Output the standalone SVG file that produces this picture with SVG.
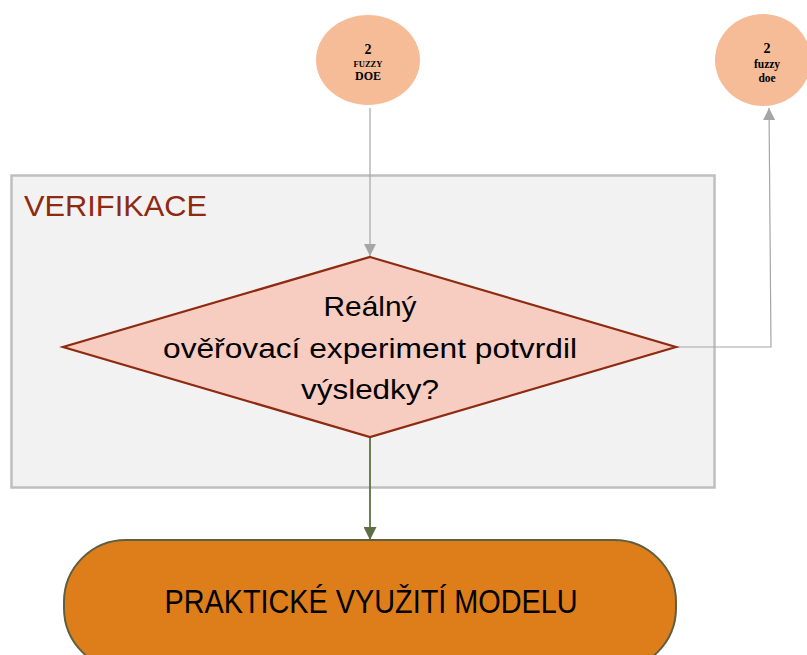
<svg xmlns="http://www.w3.org/2000/svg" width="807" height="655" viewBox="0 0 807 655">
  <style>
    .circ { fill: #f5bc97; }
    .ctext { font-family: "Liberation Serif", serif; font-weight: bold; fill: #000; text-anchor: middle; }
    .gray { stroke: #a6a6a6; stroke-width: 1.2; fill: none; }
    .dtext { font-family: "Liberation Sans", Arial, sans-serif; font-size: 28px; fill: #000; text-anchor: middle; }
  </style>
  <defs>
    <marker id="arrGray" viewBox="0 0 10 10" refX="10" refY="5" markerWidth="12" markerHeight="12" markerUnits="userSpaceOnUse" orient="auto">
      <path d="M0,0 L10,5 L0,10 z" fill="#a6a6a6"/>
    </marker>
    <marker id="arrGreen" viewBox="0 0 10 10" refX="10" refY="5" markerWidth="13" markerHeight="13" markerUnits="userSpaceOnUse" orient="auto">
      <path d="M0,0 L10,5 L0,10 z" fill="#5e7043"/>
    </marker>
  </defs>

  <rect width="807" height="655" fill="#ffffff"/>

  <!-- verification container -->
  <g id="verifikace">
    <rect x="11.5" y="175.5" width="703" height="312" fill="#f2f2f2" stroke="#bfbfbf" stroke-width="2.5"/>
    <text x="24" y="216" font-family="Liberation Sans, Arial, sans-serif" font-size="29" fill="#8e2a10" textLength="183" lengthAdjust="spacingAndGlyphs">VERIFIKACE</text>
  </g>

  <!-- connectors -->
  <g id="connectors">
    <line class="gray" x1="370" y1="108" x2="370" y2="256" marker-end="url(#arrGray)"/>
    <polyline class="gray" points="676,347 771,347 769,108" marker-end="url(#arrGray)"/>
    <line x1="370" y1="437" x2="370" y2="540" stroke="#5e7043" stroke-width="1.8" marker-end="url(#arrGreen)"/>
  </g>

  <g id="doe-upper">
    <ellipse class="circ" cx="368" cy="60" rx="52" ry="45"/>
    <text class="ctext" x="368" y="54" font-size="14">2</text>
    <text class="ctext" x="368" y="67" font-size="8.5">FUZZY</text>
    <text class="ctext" x="368" y="80" font-size="12">DOE</text>
  </g>

  <g id="doe-right">
    <ellipse class="circ" cx="763" cy="60" rx="48" ry="46"/>
    <text class="ctext" x="767" y="53" font-size="14">2</text>
    <text class="ctext" x="767" y="68" font-size="11.5">fuzzy</text>
    <text class="ctext" x="767" y="82" font-size="11.5">doe</text>
  </g>

  <g id="decision">
    <polygon points="370,257 676,347 370,437 63,347" fill="#f8cdc1" stroke="#8e2a10" stroke-width="2.2"/>
    <text class="dtext" x="370" y="316" textLength="93" lengthAdjust="spacingAndGlyphs">Reálný</text>
    <text class="dtext" x="370" y="358" textLength="414" lengthAdjust="spacingAndGlyphs">ověřovací experiment potvrdil</text>
    <text class="dtext" x="370" y="399" textLength="138" lengthAdjust="spacingAndGlyphs">výsledky?</text>
  </g>

  <g id="prakticke-vyuziti">
    <rect x="64" y="540" width="612" height="130" rx="62" ry="62" fill="#de7e1a" stroke="#5e5e40" stroke-width="2"/>
    <text x="371" y="613" font-family="Liberation Sans, Arial, sans-serif" font-size="34" fill="#000" text-anchor="middle" textLength="413" lengthAdjust="spacingAndGlyphs">PRAKTICKÉ VYUŽITÍ MODELU</text>
  </g>
</svg>
